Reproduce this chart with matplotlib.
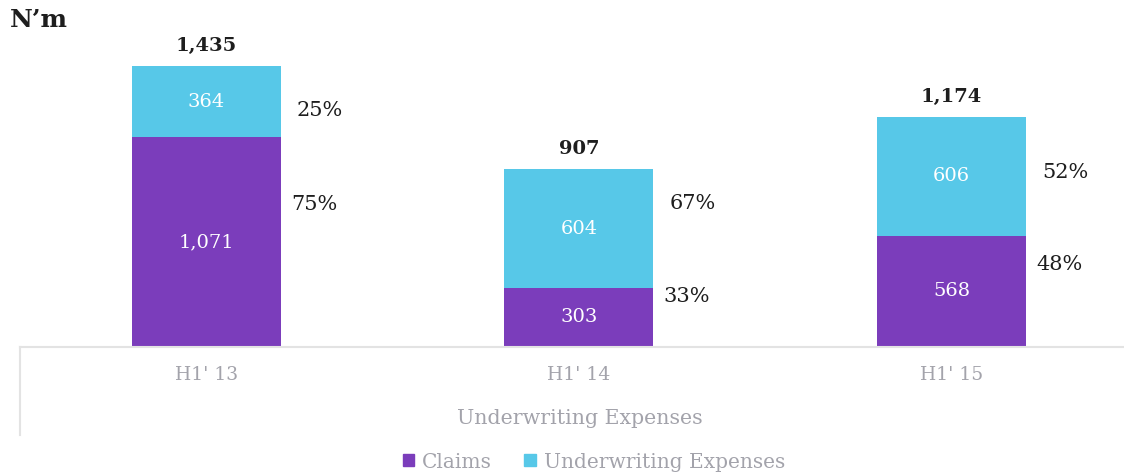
import matplotlib.pyplot as plt
from matplotlib.patches import Patch
from matplotlib.lines import Line2D

categories = ["H1' 13", "H1' 14", "H1' 15"]
claims = [1071, 303, 568]
uw_expenses = [364, 604, 606]
claims_pct = ["75%", "33%", "48%"]
uw_pct = ["25%", "67%", "52%"]

# where the percentage labels sit (data units)
claims_pct_y = [730, 260, 420]
uw_pct_y = [1210, 735, 890]

PURPLE = '#7B3DBB'
CYAN = '#57C8E8'
GREY = '#A3A3AB'
DARK = '#1E1E1E'

plt.rcParams['font.family'] = ['DejaVu Serif']

fig = plt.figure(figsize=(11.24, 4.76), dpi=100)
ax = fig.add_axes([20 / 1124, 129 / 476, 1 - 20 / 1124, 327 / 476])

x = list(range(len(categories)))
totals = [c + u for c, u in zip(claims, uw_expenses)]
ax.bar(x, claims, width=0.4, color=PURPLE)
ax.bar(x, uw_expenses, width=0.4, bottom=claims, color=CYAN)

for i in x:
    ax.text(i, claims[i] / 2, f'{claims[i]:,}', ha='center', va='center',
            color='white', fontsize=14)
    ax.text(i, claims[i] + uw_expenses[i] / 2, f'{uw_expenses[i]:,}',
            ha='center', va='center', color='white', fontsize=14)
    ax.annotate(f'{totals[i]:,}', (i, totals[i]), xytext=(0, 8),
                textcoords='offset points', ha='center', va='bottom',
                fontsize=14, fontweight='bold', color=DARK)
    ax.text(i + 0.29, claims_pct_y[i], claims_pct[i], ha='center',
            va='center', fontsize=15, color=DARK)
    ax.text(i + 0.305, uw_pct_y[i], uw_pct[i], ha='center', va='center',
            fontsize=15, color=DARK)

ax.set_xlim(-0.5, 2.463)
ax.set_ylim(0, 1670)
ax.set_yticks([])
ax.set_xticks(x)
ax.set_xticklabels(categories, color=GREY, fontsize=13.5)
ax.tick_params(axis='x', length=0, pad=14)
for s in ['top', 'right', 'left']:
    ax.spines[s].set_visible(False)
ax.spines['bottom'].set_color('#E3E3E3')
ax.spines['bottom'].set_linewidth(1.5)

fig.add_artist(Line2D([20 / 1124, 20 / 1124], [129 / 476, 41 / 476],
                      color='#E3E3E3', lw=1.5, transform=fig.transFigure))

fig.text(580 / 1124, 1 - 418 / 476, 'Underwriting Expenses', ha='center',
         va='center', color=GREY, fontsize=14.8)
fig.text(10 / 1124, 1 - 20 / 476, 'N\u2019m', ha='left', va='center',
         fontsize=18, fontweight='bold', color=DARK)

handles = [Patch(color=PURPLE), Patch(color=CYAN)]
fig.legend(handles, ['Claims', 'Underwriting Expenses'], loc='center',
           bbox_to_anchor=(594 / 1124, 1 - 462 / 476), ncol=2, frameon=False,
           handlelength=0.55, handleheight=0.55, handletextpad=0.4,
           columnspacing=1.6, labelcolor=GREY, fontsize=14.5)

fig.savefig('out.png', dpi=100)
